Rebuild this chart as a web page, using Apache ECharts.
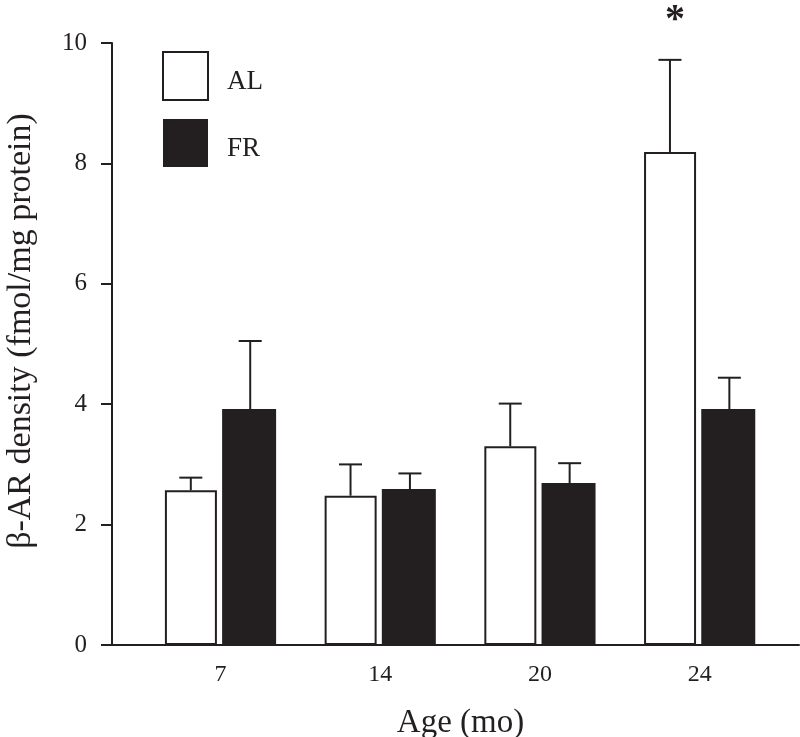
<!DOCTYPE html>
<html>
<head>
<meta charset="utf-8">
<script src="https://cdn.jsdelivr.net/npm/echarts@6/dist/echarts.min.js"></script>
<style>html,body{margin:0;padding:0;background:#fff;}#c{width:800px;height:737px;}</style>
</head>
<body>
<div id="c"></div>
<script>
// ---- data ----
var ages = ['7', '14', '20', '24'];
var alMean = [2.57, 2.48, 3.30, 8.19];
var alErr = [0.21, 0.52, 0.71, 1.53];
var frMean = [3.92, 2.59, 2.69, 3.92];
var frErr = [1.13, 0.26, 0.33, 0.52];
var alSig = ['', '', '', '*'];
var frSig = ['', '', '', ''];
var yTicks = [0, 2, 4, 6, 8, 10];

var INK = '#231f20';
var FONT = 'Liberation Serif';
var BAR_W = 54, BAR_GAP = 0.10;
var half = (BAR_W + BAR_W * BAR_GAP) / 2;

function pos(i) { return i + 1; }
function barData(arr) { return arr.map(function (v, i) { return [pos(i), v]; }); }
function errData(m, e, s) { return m.map(function (v, i) { return [pos(i), v, e[i], s[i]]; }); }

function errRender(offset) {
  return function (params, api) {
    var x = api.value(0), m = api.value(1), e = api.value(2);
    var sig = api.value(3);
    var p0 = api.coord([x, m]);
    var p1 = api.coord([x, m + e]);
    var cx = p0[0] + offset;
    var children = [
      { type: 'line', shape: { x1: cx, y1: p0[1], x2: cx, y2: p1[1] }, style: { stroke: INK, lineWidth: 2 } },
      { type: 'line', shape: { x1: cx - 11.5, y1: p1[1], x2: cx + 11.5, y2: p1[1] }, style: { stroke: INK, lineWidth: 2 } }
    ];
    if (sig) {
      children.push({ type: 'text', style: { text: sig, x: cx + 5, y: p1[1] - 39, align: 'center', verticalAlign: 'middle', font: 'bold 40px ' + FONT, fill: INK } });
    }
    return { type: 'group', children: children };
  };
}

var chart = echarts.init(document.getElementById('c'));
chart.setOption({
  animation: false,
  backgroundColor: '#fff',
  grid: { left: 112, right: 1, top: 43, bottom: 92, outerBoundsMode: 'none', containLabel: false },
  legend: {
    orient: 'vertical', left: 162, top: 51, padding: 0,
    itemWidth: 45, itemHeight: 48, itemGap: 18,
    icon: 'rect',
    selectedMode: false,
    formatter: '{t|{name}}',
    textStyle: { fontFamily: FONT, fontSize: 27, color: INK,
      rich: { t: { fontFamily: FONT, fontSize: 27, color: INK, padding: [12, 0, 0, 14] } } },
    data: [
      { name: 'AL', itemStyle: { color: '#fff', borderColor: INK, borderWidth: 2 } },
      { name: 'FR', itemStyle: { color: INK, borderColor: INK, borderWidth: 0 } }
    ]
  },
  xAxis: {
    type: 'value', min: 0.3206, max: 4.622,
    name: 'Age (mo)', nameLocation: 'middle', nameGap: 62,
    nameTextStyle: { fontFamily: FONT, fontSize: 33, color: INK, padding: [0, 0, 0, 10] },
    splitLine: { show: false },
    axisLine: { lineStyle: { color: INK, width: 2 } },
    axisTick: { show: false },
    axisLabel: {
      customValues: ages.map(function (a, i) { return pos(i); }),
      formatter: function (v) { return ages[Math.round(v) - 1]; },
      fontFamily: FONT, fontSize: 24, color: INK, margin: 18
    }
  },
  yAxis: {
    type: 'value', min: 0, max: 10, interval: 2,
    name: 'β-AR density (fmol/mg protein)', nameLocation: 'middle', nameGap: 74,
    nameTextStyle: { fontFamily: FONT, fontSize: 34, color: INK, padding: [0, 0, 0, 26] },
    splitLine: { show: false },
    axisLine: { show: true, lineStyle: { color: INK, width: 2 } },
    axisTick: { show: true, length: 11, lineStyle: { color: INK, width: 2 } },
    axisLabel: { fontFamily: FONT, fontSize: 25, color: INK, margin: 25,
      formatter: function (v) { return yTicks.indexOf(v) >= 0 ? String(v) : ''; } }
  },
  series: [
    { name: 'AL', type: 'bar', data: barData(alMean), barWidth: BAR_W - 2, barGap: (BAR_GAP * 100 + 2 / BAR_W * 100) + '%',
      itemStyle: { color: '#fff', borderColor: INK, borderWidth: 2 } },
    { name: 'FR', type: 'bar', data: barData(frMean), barWidth: BAR_W, barGap: (BAR_GAP * 100) + '%',
      itemStyle: { color: INK } },
    { name: 'AL err', type: 'custom', data: errData(alMean, alErr, alSig), renderItem: errRender(-half), encode: { x: 0, y: 1 }, z: 3 },
    { name: 'FR err', type: 'custom', data: errData(frMean, frErr, frSig), renderItem: errRender(half), encode: { x: 0, y: 1 }, z: 3 }
  ]
});
</script>
</body>
</html>
